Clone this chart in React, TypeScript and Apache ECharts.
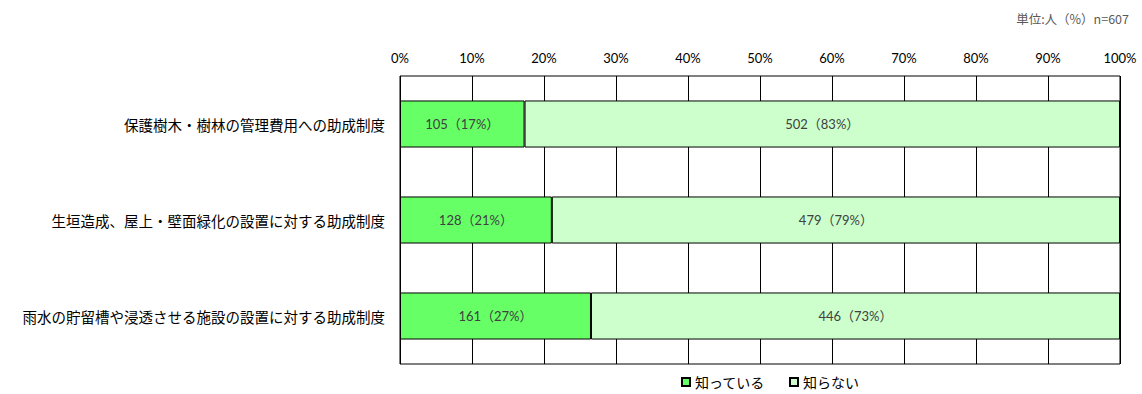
import React, { useEffect, useRef } from "react";
import * as echarts from "echarts";

const categories = [
  "保護樹木・樹林の管理費用への助成制度",
  "生垣造成、屋上・壁面緑化の設置に対する助成制度",
  "雨水の貯留槽や浸透させる施設の設置に対する助成制度",
];
const knownCounts = [105, 128, 161];
const unknownCounts = [502, 479, 446];
const knownPct = [17, 21, 27];
const unknownPct = [83, 79, 73];
const seriesNames = ["知っている", "知らない"];
const total = 607;

export default function App() {
  const ref = useRef<HTMLDivElement>(null);
  useEffect(() => {
    if (!ref.current) return;
    const chart = echarts.init(ref.current, null, { renderer: "svg" });
    const jp = "'Noto Sans CJK JP', sans-serif";
    const num = "Lato, 'Noto Sans CJK JP', sans-serif";
    const mk = (counts: number[], pcts: number[], name: string, color: string) => ({
      type: "bar",
      name,
      stack: "s",
      barWidth: "49%",
      data: counts.map((c, i) => ({ value: (c / total) * 100, count: c, pct: pcts[i] })),
      itemStyle: { color, borderColor: "#000", borderWidth: 1 },
      label: {
        show: true,
        position: "inside",
        color: "#404040",
        fontSize: 13,
        fontFamily: num,
        formatter: (p: any) => `${p.data.count}（${p.data.pct}%）`,
      },
    });
    chart.setOption({
      animation: false,
      title: {
        text: "単位:人（%）n=607",
        right: 8,
        top: 7,
        textStyle: { fontSize: 12.5, fontWeight: "normal", color: "#595959", fontFamily: jp },
      },
      legend: {
        data: seriesNames,
        bottom: 0,
        left: 676,
        itemWidth: 8,
        itemHeight: 8,
        itemGap: 24,
        icon: "rect",
        textStyle: { fontSize: 14, color: "#000", fontFamily: jp },
      },
      grid: {
        left: 400,
        right: 22,
        top: 76,
        height: 288,
        show: true,
        borderColor: "#000",
        borderWidth: 1,
      },
      xAxis: {
        type: "value",
        position: "top",
        min: 0,
        max: 100,
        interval: 10,
        axisLine: { show: false },
        axisTick: { show: false },
        splitLine: { show: true, lineStyle: { color: "#000", width: 1 } },
        axisLabel: {
          formatter: "{value}%",
          fontSize: 13,
          color: "#000",
          fontFamily: num,
          margin: 12,
        },
      },
      yAxis: {
        type: "category",
        data: categories,
        inverse: true,
        axisLine: { show: false },
        axisTick: { show: false },
        axisLabel: { fontSize: 14.5, color: "#000", fontFamily: jp, margin: 15 },
      },
      series: [
        mk(knownCounts, knownPct, seriesNames[0], "#66FF66"),
        mk(unknownCounts, unknownPct, seriesNames[1], "#CCFFCC"),
      ],
    });
    return () => chart.dispose();
  }, []);
  return <div ref={ref} style={{ width: 1142, height: 394, position: "absolute", left: 0, top: 0 }} />;
}
